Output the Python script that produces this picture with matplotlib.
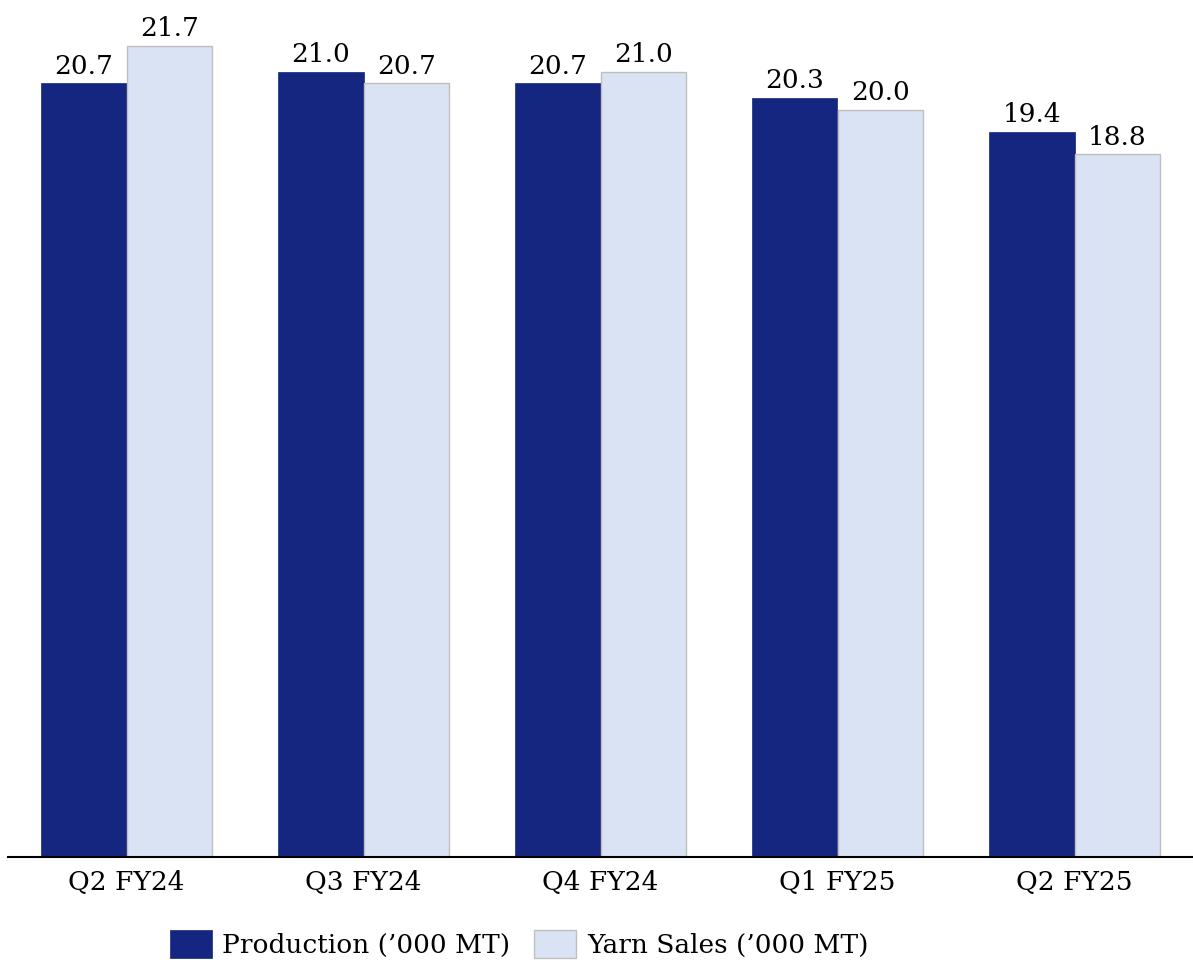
import matplotlib
matplotlib.use("Agg")
import matplotlib.pyplot as plt
import numpy as np

categories = ["Q2 FY24", "Q3 FY24", "Q4 FY24", "Q1 FY25", "Q2 FY25"]
production = [20.7, 21.0, 20.7, 20.3, 19.4]
yarn_sales = [21.7, 20.7, 21.0, 20.0, 18.8]
series_names = ["Production (\u2019000 MT)", "Yarn Sales (\u2019000 MT)"]

plt.rcParams['font.family'] = ['DejaVu Serif']

W, H = 1193, 965
fig = plt.figure(figsize=(W / 100, H / 100), dpi=100)
ax = fig.add_axes([8 / W, 1 - 857 / H, 1 - 8 / W, 857 / H])

x = np.arange(len(categories))
bw = 0.36
dark = "#14267f"
light = "#dae3f3"
b1 = ax.bar(x - bw / 2, production, bw, color=dark, edgecolor=dark, linewidth=0.5,
            label=series_names[0])
b2 = ax.bar(x + bw / 2, yarn_sales, bw, color=light, edgecolor="#bfbfbf", linewidth=1.0,
            label=series_names[1])

fs = 19
for bars, vals in ((b1, production), (b2, yarn_sales)):
    for r, v in zip(bars, vals):
        ax.annotate(f"{v:.1f}", (r.get_x() + r.get_width() / 2, r.get_height()),
                    xytext=(0, 3.5), textcoords="offset points", ha="center", va="bottom",
                    fontsize=fs, color="black")

ax.set_xlim(-0.5, 4.5)
ax.set_ylim(0, 857 / (811 / 21.7))
ax.set_xticks(x)
ax.set_xticklabels(categories, fontsize=fs)
ax.tick_params(axis="x", length=0, pad=9)
ax.set_yticks([])
for s in ("top", "right", "left"):
    ax.spines[s].set_visible(False)
ax.spines["bottom"].set_linewidth(1.5)
ax.spines["bottom"].set_color("black")

fig.legend(handles=[b1, b2], loc="center", bbox_to_anchor=(519 / W, 1 - 944 / H),
           ncol=2, frameon=False, fontsize=fs, handlelength=1.6, handleheight=1.25,
           handletextpad=0.4, columnspacing=0.9)

fig.savefig("out.png", dpi=100)
